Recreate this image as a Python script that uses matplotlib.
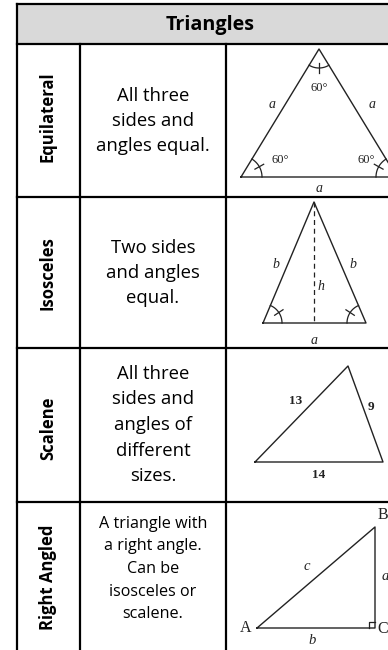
import numpy as np
import matplotlib.pyplot as plt

# table content
title = "Triangles"
names = ["Equilateral", "Isosceles", "Scalene", "Right Angled"]
descriptions = [
    ["All three", "sides and", "angles equal."],
    ["Two sides", "and angles", "equal."],
    ["All three", "sides and", "angles of", "different", "sizes."],
    ["A triangle with", "a right angle.", "Can be", "isosceles or", "scalene."],
]

# triangle vertices (pixel space of the picture column)
equilateral = [(241, 177), (319, 49), (397, 177)]
isosceles = [(263, 323), (314, 202), (366, 323)]
scalene = [(255, 462), (348, 366), (383, 462)]
right_angled = [(257, 628), (375, 628), (375, 527)]  # A, C, B

# layout
W, H = 388, 650
col_x = [17, 80, 226, 420]
row_y = [4, 44, 197, 348, 502, 660]
row_mid = [121, 273, 425, 569]
name_mid = [117, 273, 428, 577]
line_gap = [25.3, 25.3, 25.7, 22.5]
desc_size = [13.3, 13.3, 13.3, 11.6]

fig = plt.figure(figsize=(W / 100, H / 100), dpi=100)
ax = fig.add_axes([0, 0, 1, 1])
ax.set_xlim(0, W)
ax.set_ylim(H, 0)
ax.axis("off")

sans = ["Open Sans", "DejaVu Sans"]
serif = ["Liberation Serif", "DejaVu Serif"]
ink = "#222222"

# header
ax.fill_between([col_x[0], col_x[-1]], row_y[0], row_y[1], color="#d9d9d9", lw=0)
ax.text(210, (row_y[0] + row_y[1]) / 2 + 1, title, family=sans,
        weight="bold", fontsize=14.2, ha="center", va="center")

# grid lines
for y in row_y[:-1]:
    ax.plot([col_x[0], col_x[-1]], [y, y], color="black", lw=1.6, solid_capstyle="projecting")
ax.plot([col_x[0], col_x[0]], [row_y[0], H + 10], color="black", lw=1.6)
for x in col_x[1:3]:
    ax.plot([x, x], [row_y[1], H + 10], color="black", lw=1.6)

# row texts
for i, name in enumerate(names):
    ax.text((col_x[0] + col_x[1]) / 2 - 0.5, name_mid[i], name, family=sans, weight="bold",
            fontsize=12, rotation=90, ha="center", va="center", rotation_mode="anchor")
    lines = descriptions[i]
    n = len(lines)
    for k, ln in enumerate(lines):
        y = row_mid[i] + (k - (n - 1) / 2) * line_gap[i]
        ax.text((col_x[1] + col_x[2]) / 2, y, ln, family=sans, fontsize=desc_size[i],
                ha="center", va="center")


def draw_tri(pts, **kw):
    p = np.array(pts + [pts[0]], dtype=float)
    ax.plot(p[:, 0], p[:, 1], color=ink, lw=1.0, **kw)


def angle_mark(v, p, q, r, tick=True):
    v, p, q = (np.array(a, dtype=float) for a in (v, p, q))
    a1 = np.arctan2(*(p - v)[::-1])
    a2 = np.arctan2(*(q - v)[::-1])
    d = (a2 - a1 + np.pi) % (2 * np.pi) - np.pi
    t = np.linspace(a1, a1 + d, 40)
    ax.plot(v[0] + r * np.cos(t), v[1] + r * np.sin(t), color=ink, lw=0.9)
    if tick:
        m = a1 + d / 2
        rr = np.array([r - 5, r + 5])
        ax.plot(v[0] + rr * np.cos(m), v[1] + rr * np.sin(m), color=ink, lw=0.9)


def label(x, y, s, size=10, **kw):
    ax.text(x, y, s, family=serif, fontsize=size, color=ink, ha="center", va="center", **kw)


# equilateral
draw_tri(equilateral)
L, T, R = equilateral
angle_mark(T, L, R, 19)
angle_mark(L, T, R, 21)
angle_mark(R, T, L, 21)
label(T[0], 88, "60°", 9)
label(280, 160, "60°", 9)
label(366, 160, "60°", 9)
label(272, 105, "a", style="italic")
label(372, 105, "a", style="italic")
label(T[0], 189, "a", style="italic")

# isosceles
draw_tri(isosceles)
L, T, R = isosceles
ax.plot([T[0], T[0]], [T[1], L[1]], color=ink, lw=0.9, ls=(0, (4, 3)))
angle_mark(L, T, R, 19)
angle_mark(R, T, L, 19)
label(276, 264, "b", style="italic")
label(353, 264, "b", style="italic")
label(321, 286, "h", style="italic")
label(T[0], 341, "a", style="italic")

# scalene
draw_tri(scalene)
label(296, 401, "13", 9.5, weight="bold")
label(371, 407, "9", 9.5, weight="bold")
label(319, 475, "14", 9.5, weight="bold")

# right angled
draw_tri(right_angled)
A, C, B = right_angled
s = 6
ax.plot([C[0] - s, C[0] - s, C[0]], [C[1], C[1] - s, C[1] - s], color=ink, lw=0.9)
label(246, 628, "A", 11.5)
label(383, 515, "B", 11.5)
label(383, 629, "C", 11.5)
label(307, 567, "c", 10.5, style="italic")
label(385, 577, "a", 10.5, style="italic")
label(312, 640, "b", 10.5, style="italic")

fig.savefig("out.png", dpi=100)
